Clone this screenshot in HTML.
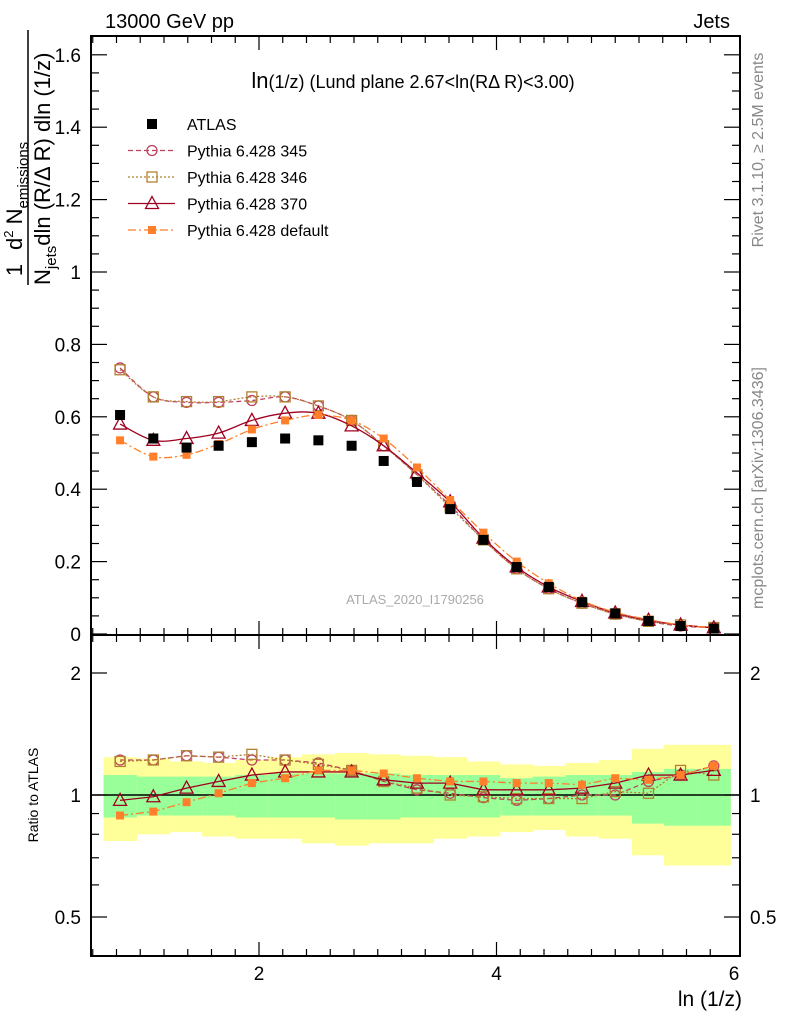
<!DOCTYPE html>
<html><head><meta charset="utf-8"><style>
html,body{margin:0;padding:0;background:#fff;}
svg{display:block;font-family:"Liberation Sans",Arial,sans-serif;}
</style></head><body>
<svg id="c" width="786" height="1024" viewBox="0 0 786 1024" xmlns="http://www.w3.org/2000/svg">
<text x="105" y="28" font-size="20">13000 GeV pp</text>
<text x="730" y="28" font-size="20" text-anchor="end">Jets</text>
<text x="413" y="88" font-size="18" text-anchor="middle"><tspan font-size="22">ln</tspan>(1/z) (Lund plane 2.67&lt;ln(RΔ R)&lt;3.00)</text>
<text x="415" y="604" font-size="13" fill="#aaa" text-anchor="middle">ATLAS_2020_I1790256</text>
<text transform="translate(763,150) rotate(-90)" font-size="16" fill="#888" text-anchor="middle">Rivet 3.1.10, ≥ 2.5M events</text>
<text transform="translate(763,488) rotate(-90)" font-size="16" fill="#888" text-anchor="middle">mcplots.cern.ch [arXiv:1306.3436]</text>
<g>
<text transform="translate(22,270) rotate(-90)" font-size="22" text-anchor="middle">1</text>
<line x1="28" y1="30" x2="28" y2="285" stroke="#000" stroke-width="1.5"/>
<text transform="translate(50,285) rotate(-90)" font-size="22">N<tspan font-size="15" dy="6">jets</tspan><tspan dy="-6">dln (R/Δ R) dln (1/z)</tspan></text>
<text transform="translate(22,250) rotate(-90)" font-size="22">d<tspan font-size="13" dy="-9">2</tspan><tspan dy="9"> N</tspan><tspan font-size="15" dy="6">emissions</tspan></text>
</g>
<text transform="translate(38,795) rotate(-90)" font-size="14" text-anchor="middle">Ratio to ATLAS</text>
<text x="742" y="1006" font-size="21" text-anchor="end">ln (1/z)</text>
<g id="g"></g>
</svg>
<script>
const xCenters=[0.83,1.11,1.39,1.66,1.94,2.22,2.50,2.78,3.05,3.33,3.61,3.89,4.17,4.44,4.72,5.00,5.28,5.55,5.83];
const binHalf=0.139;
const atlas=[0.605,0.54,0.515,0.52,0.53,0.54,0.535,0.52,0.478,0.42,0.345,0.26,0.185,0.13,0.088,0.057,0.036,0.022,0.015];
const py345=[0.735,0.655,0.64,0.64,0.645,0.655,0.63,0.59,0.52,0.44,0.355,0.26,0.18,0.125,0.085,0.055,0.035,0.022,0.018];
const py346=[0.73,0.655,0.642,0.642,0.655,0.655,0.63,0.59,0.52,0.44,0.35,0.26,0.18,0.125,0.085,0.055,0.035,0.025,0.018];
const py370=[0.58,0.535,0.54,0.555,0.59,0.61,0.61,0.575,0.52,0.445,0.365,0.265,0.185,0.13,0.09,0.058,0.038,0.025,0.017];
const pyDef=[0.535,0.49,0.495,0.525,0.565,0.59,0.605,0.59,0.54,0.46,0.37,0.28,0.2,0.14,0.092,0.06,0.04,0.025,0.017];
const r345=[1.22,1.22,1.25,1.24,1.22,1.22,1.20,1.15,1.08,1.03,1.01,0.985,0.97,0.98,1.0,1.0,1.08,1.12,1.18];
const r346=[1.21,1.22,1.25,1.24,1.26,1.22,1.19,1.15,1.08,1.04,1.0,0.99,0.98,0.98,0.98,1.02,1.01,1.15,1.12];
const r370=[0.97,0.99,1.04,1.08,1.12,1.14,1.14,1.14,1.09,1.07,1.07,1.03,1.03,1.03,1.04,1.07,1.12,1.12,1.15];
const rDef=[0.89,0.91,0.96,1.01,1.07,1.10,1.15,1.15,1.13,1.10,1.08,1.08,1.07,1.07,1.06,1.10,1.09,1.12,1.18];
const yellowHi=[1.24,1.23,1.21,1.20,1.22,1.24,1.26,1.27,1.26,1.25,1.24,1.21,1.19,1.18,1.20,1.22,1.30,1.33,1.33];
const yellowLo=[0.77,0.80,0.81,0.79,0.78,0.78,0.76,0.75,0.76,0.76,0.78,0.79,0.81,0.82,0.79,0.78,0.71,0.67,0.67];
const greenHi=[1.12,1.11,1.11,1.11,1.12,1.13,1.13,1.13,1.13,1.12,1.12,1.12,1.10,1.11,1.12,1.12,1.14,1.16,1.16];
const greenLo=[0.88,0.89,0.89,0.89,0.88,0.88,0.88,0.87,0.87,0.88,0.88,0.88,0.89,0.89,0.89,0.89,0.85,0.84,0.84];
const xTicks=[2,4,6];
const yTicks=[0,0.2,0.4,0.6,0.8,1,1.2,1.4,1.6];
const rTicks=[0.5,1,2];

const L=91,R=740,T=36,MB=635,RB=956;
const X=v=>21.5+v*118.75;
const Y=v=>634-v*362;
const RY=v=>795-Math.log2(v)*122;
const NS="http://www.w3.org/2000/svg";
const g=document.getElementById('g');
function el(tag,a,parent){const e=document.createElementNS(NS,tag);for(const k in a)e.setAttribute(k,a[k]);(parent||g).appendChild(e);return e;}

const bands=el('g',{});


xCenters.forEach((c,i)=>{
  const b=el('rect',{x:X(c-binHalf),y:RY(yellowHi[i]),width:X(c+binHalf)-X(c-binHalf)+0.5,height:RY(yellowLo[i])-RY(yellowHi[i]),fill:'#ffff99'},bands);
  
  
  const s=el('rect',{x:X(c-binHalf),y:RY(greenHi[i]),width:X(c+binHalf)-X(c-binHalf)+0.5,height:RY(greenLo[i])-RY(greenHi[i]),fill:'#99ff99'},bands);
  
  
});
const one=el('line',{x1:L,x2:R,y1:RY(1),y2:RY(1),stroke:'#000','stroke-width':1.5});



const f1=el('rect',{x:L,y:T,width:R-L,height:MB-T,fill:'none',stroke:'#000','stroke-width':2});


const f2=el('rect',{x:L,y:MB,width:R-L,height:RB-MB,fill:'none',stroke:'#000','stroke-width':2});



for(let v=0.6;v<=6.0;v+=0.2){
  const major=Math.abs(v/2-Math.round(v/2))<0.01;
  const len=major?14:7;const xp=X(v);if(xp<L||xp>R)continue;
  [[MB,MB-len],[T,T+len],[RB,RB-len],[MB,MB+len]].forEach(p=>el('line',{x1:xp,x2:xp,y1:p[0],y2:p[1],stroke:'#000','stroke-width':1.2}));
}
xTicks.forEach(v=>{const t=el('text',{x:X(v),y:980,'font-size':19,'text-anchor':'middle'});t.textContent=v;

});
for(let v=0;v<=1.65;v+=0.05){
  const major=Math.round(v*100)%20===0;const len=major?16:8;const yp=Y(v);
  el('line',{x1:L,x2:L+len,y1:yp,y2:yp,stroke:'#000','stroke-width':1.2});
  el('line',{x1:R,x2:R-len,y1:yp,y2:yp,stroke:'#000','stroke-width':1.2});
}
yTicks.forEach(v=>{const t=el('text',{x:81,y:Y(v)+7,'font-size':19,'text-anchor':'end'});t.textContent=(v===0||v===1)?String(v):v.toFixed(1);

});
[0.4,0.5,0.6,0.7,0.8,0.9,1,2].forEach(v=>{const major=rTicks.includes(v);const len=major?16:8;const yp=RY(v);
  el('line',{x1:L,x2:L+len,y1:yp,y2:yp,stroke:'#000','stroke-width':1.2});
  el('line',{x1:R,x2:R-len,y1:yp,y2:yp,stroke:'#000','stroke-width':1.2});});
rTicks.forEach(v=>{[[81,'end'],[750,'start']].forEach(p=>{const t=el('text',{x:p[0],y:RY(v)+7,'font-size':19,'text-anchor':p[1]});t.textContent=v;

});});

function smooth(pts){let d='M'+pts[0][0]+','+pts[0][1];for(let i=0;i<pts.length-1;i++){const p0=pts[i-1]||pts[i],p1=pts[i],p2=pts[i+1],p3=pts[i+2]||p2;
 d+=' C'+(p1[0]+(p2[0]-p0[0])/6)+','+(p1[1]+(p2[1]-p0[1])/6)+' '+(p2[0]-(p3[0]-p1[0])/6)+','+(p2[1]-(p3[1]-p1[1])/6)+' '+p2[0]+','+p2[1];}return d;}
function marker(x,y,type,col,parent){
  if(type==='circle')return el('circle',{cx:x,cy:y,r:5,fill:'none',stroke:col,'stroke-width':1.3},parent);
  if(type==='osq')return el('rect',{x:x-5,y:y-5,width:10,height:10,fill:'none',stroke:col,'stroke-width':1.3},parent);
  if(type==='tri')return el('path',{d:`M${x},${y-7}L${x+6.5},${y+5}L${x-6.5},${y+5}Z`,fill:'none',stroke:col,'stroke-width':1.3},parent);
  if(type==='fsq')return el('rect',{x:x-4,y:y-4,width:8,height:8,fill:col},parent);
  return el('rect',{x:x-5,y:y-5,width:10,height:10,fill:col},parent);
}
const series=[
 {n:'pythia-345',v:py345,r:r345,col:'#c04060',dash:'5,3',m:'circle'},
 {n:'pythia-346',v:py346,r:r346,col:'#b08030',dash:'2,2',m:'osq'},
 {n:'pythia-370',v:py370,r:r370,col:'#a00020',dash:'',m:'tri'},
 {n:'pythia-default',v:pyDef,r:rDef,col:'#ff7f2a',dash:'8,3,2,3',m:'fsq'}];
series.forEach(s=>{
  const gm=el('g',{});
  
  
  el('path',{d:smooth(xCenters.map((c,i)=>[X(c),Y(s.v[i])])),fill:'none',stroke:s.col,'stroke-width':1.3,'stroke-dasharray':s.dash},gm);
  xCenters.forEach((c,i)=>{const m=marker(X(c),Y(s.v[i]),s.m,s.col,gm);
    
    });
  const gr=el('g',{});
  
  
  el('path',{d:'M'+xCenters.map((c,i)=>X(c)+','+RY(s.r[i])).join('L'),fill:'none',stroke:s.col,'stroke-width':1.3,'stroke-dasharray':s.dash},gr);
  xCenters.forEach((c,i)=>{const m=marker(X(c),RY(s.r[i]),s.m,s.col,gr);
    
    });
});
const ga=el('g',{});


xCenters.forEach((c,i)=>{const m=marker(X(c),Y(atlas[i]),'data','#000',ga);
  
  });

const lg=el('g',{});


const legItems=[['ATLAS','data','#000',''],['Pythia 6.428 345','circle','#c04060','5,3'],['Pythia 6.428 346','osq','#b08030','2,2'],['Pythia 6.428 370','tri','#a00020',''],['Pythia 6.428 default','fsq','#ff7f2a','8,3,2,3']];
legItems.forEach((it,i)=>{const y=124+i*26.5;
  const e=el('g',{},lg);
  
  
  if(it[1]!=='data')el('line',{x1:128,x2:175,y1:y,y2:y,stroke:it[2],'stroke-width':1.3,'stroke-dasharray':it[3]},e);
  marker(152,y,it[1],it[2],e);
  const t=el('text',{x:187,y:y+6,'font-size':16},e);t.textContent=it[0];});
</script>
</body></html>
